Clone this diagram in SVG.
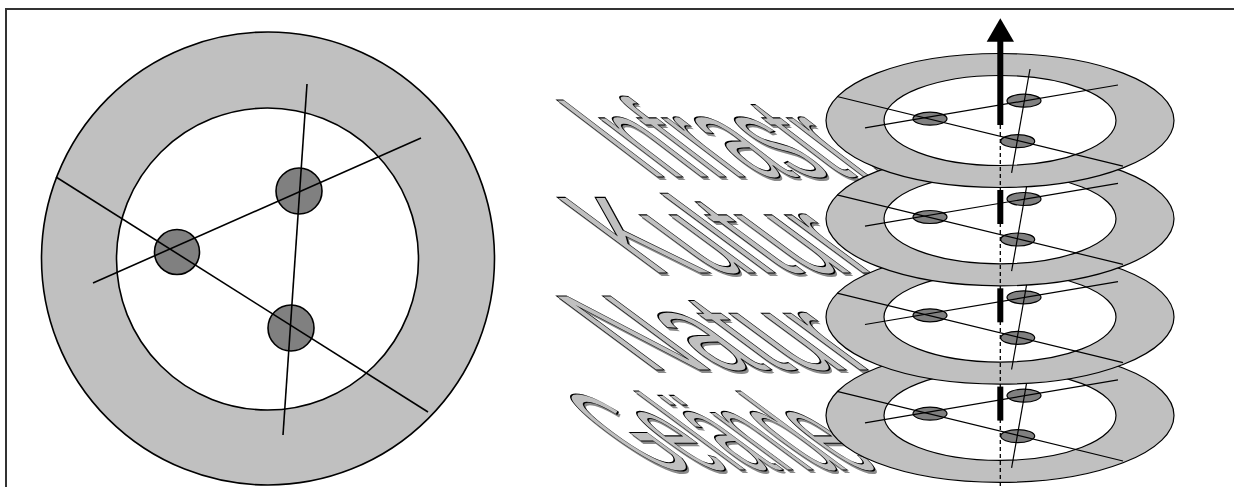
<svg xmlns="http://www.w3.org/2000/svg" width="1234" height="487" viewBox="0 0 1234 487">
  <style>
    .ring { fill: #c0c0c0; stroke: #000; stroke-width: 1.6; }
    .hole { fill: #fff; stroke: #000; stroke-width: 1.6; }
    .dot { fill: #808080; stroke: #000; stroke-width: 1.6; }
    .ln { stroke: #000; stroke-width: 1.6; fill: none; }
    .ring2 { fill: #c0c0c0; stroke: #000; stroke-width: 1.2; }
    .hole2 { fill: #fff; stroke: #000; stroke-width: 1.2; }
    .dot2 { fill: #808080; stroke: #000; stroke-width: 1.2; }
    .ln2 { stroke: #000; stroke-width: 1.2; fill: none; }
    .wa { font-family: "Liberation Sans", Arial, sans-serif; font-size: 100px; }
    .wa-shadow { fill: #8a8a8a; }
    .wa-face { fill: #c0c0c0; stroke: #000; stroke-width: 1; }
    .axis { fill: #000; }
  </style>

  <g id="frame">
    <path d="M6,487 V9 H1234" fill="none" stroke="#333" stroke-width="2"/>
  </g>

  <g id="big-disc">
    <circle class="ring" cx="268" cy="258.5" r="226.5"/>
    <circle class="hole" cx="267.5" cy="259" r="151"/>
    <circle class="dot" cx="177" cy="252" r="22.5"/>
    <circle class="dot" cx="299" cy="191" r="23"/>
    <circle class="dot" cx="291" cy="328" r="23"/>
    <line class="ln" x1="56" y1="177" x2="428" y2="412"/>
    <line class="ln" x1="93" y1="283" x2="421" y2="138"/>
    <line class="ln" x1="307" y1="84" x2="283" y2="435"/>
  </g>

  <g id="label-infrastruktur">
    <text class="wa wa-shadow" transform="matrix(0.75 0 1.467 1.12 653 179.5)">Infrastr.</text>
    <text class="wa wa-face" transform="matrix(0.75 0 1.467 1.12 650.4 177)">Infrastr.</text>
  </g>
  <g id="label-kultur">
    <text class="wa wa-shadow" transform="matrix(0.9 0 1.485 1.10 654.3 275.5)">Kultur</text>
    <text class="wa wa-face" transform="matrix(0.9 0 1.485 1.10 651.8 273)">Kultur</text>
  </g>
  <g id="label-natur">
    <text class="wa wa-shadow" transform="matrix(0.97 0 1.45 1.075 650.8 372.5)">Natur</text>
    <text class="wa wa-face" transform="matrix(0.97 0 1.45 1.075 648.3 370)">Natur</text>
  </g>
  <g id="label-gelaende">
    <text class="wa wa-shadow" transform="matrix(0.61 0 1.47 1.09 657.5 472.5)">Gelände</text>
    <text class="wa wa-face" transform="matrix(0.61 0 1.47 1.09 655 470)">Gelände</text>
  </g>

  <g id="disc-gelaende" transform="translate(1000,415.4)">
    <ellipse class="ring2" rx="174" ry="67"/>
    <ellipse class="hole2" rx="116" ry="45"/>
    <ellipse class="dot2" cx="-70" cy="-1.8" rx="17" ry="6.5"/>
    <ellipse class="dot2" cx="24" cy="-19.8" rx="17" ry="6.5"/>
    <ellipse class="dot2" cx="17.7" cy="20.7" rx="17" ry="6.5"/>
    <line class="ln2" x1="-163" y1="-24" x2="123" y2="45.6"/>
    <line class="ln2" x1="-135" y1="7.4" x2="118" y2="-35.5"/>
    <line class="ln2" x1="30" y1="-51.5" x2="11.6" y2="52.4"/>
  </g>
  <g id="disc-natur" transform="translate(1000,317.1)">
    <ellipse class="ring2" rx="174" ry="67"/>
    <ellipse class="hole2" rx="116" ry="45"/>
    <ellipse class="dot2" cx="-70" cy="-1.8" rx="17" ry="6.5"/>
    <ellipse class="dot2" cx="24" cy="-19.8" rx="17" ry="6.5"/>
    <ellipse class="dot2" cx="17.7" cy="20.7" rx="17" ry="6.5"/>
    <line class="ln2" x1="-163" y1="-24" x2="123" y2="45.6"/>
    <line class="ln2" x1="-135" y1="7.4" x2="118" y2="-35.5"/>
    <line class="ln2" x1="30" y1="-51.5" x2="11.6" y2="52.4"/>
  </g>
  <g id="disc-kultur" transform="translate(1000,218.8)">
    <ellipse class="ring2" rx="174" ry="67"/>
    <ellipse class="hole2" rx="116" ry="45"/>
    <ellipse class="dot2" cx="-70" cy="-1.8" rx="17" ry="6.5"/>
    <ellipse class="dot2" cx="24" cy="-19.8" rx="17" ry="6.5"/>
    <ellipse class="dot2" cx="17.7" cy="20.7" rx="17" ry="6.5"/>
    <line class="ln2" x1="-163" y1="-24" x2="123" y2="45.6"/>
    <line class="ln2" x1="-135" y1="7.4" x2="118" y2="-35.5"/>
    <line class="ln2" x1="30" y1="-51.5" x2="11.6" y2="52.4"/>
  </g>
  <g id="disc-infrastruktur" transform="translate(1000,120.5)">
    <ellipse class="ring2" rx="174" ry="67"/>
    <ellipse class="hole2" rx="116" ry="45"/>
    <ellipse class="dot2" cx="-70" cy="-1.8" rx="17" ry="6.5"/>
    <ellipse class="dot2" cx="24" cy="-19.8" rx="17" ry="6.5"/>
    <ellipse class="dot2" cx="17.7" cy="20.7" rx="17" ry="6.5"/>
    <line class="ln2" x1="-163" y1="-24" x2="123" y2="45.6"/>
    <line class="ln2" x1="-135" y1="7.4" x2="118" y2="-35.5"/>
    <line class="ln2" x1="30" y1="-51.5" x2="11.6" y2="52.4"/>
  </g>

  <g id="connectors">
    <line x1="1000.3" y1="125" x2="1000.3" y2="487" stroke="#000" stroke-width="1.3" stroke-dasharray="4,3"/>
    <rect class="axis" x="997.3" y="40" width="6" height="85"/>
    <polygon class="axis" points="986.7,41.7 1014,41.7 1000.3,18.3"/>
    <rect class="axis" x="997.3" y="190" width="6" height="34"/>
    <rect class="axis" x="997.3" y="288.3" width="6" height="34"/>
    <rect class="axis" x="997.3" y="386.6" width="6" height="34"/>
  </g>
</svg>
